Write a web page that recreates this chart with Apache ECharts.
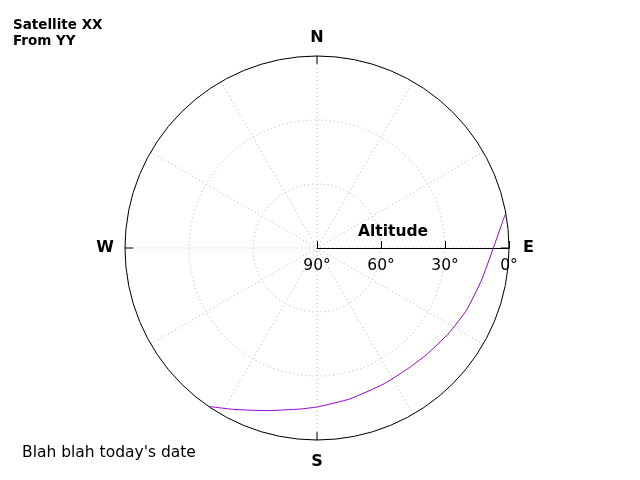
<!DOCTYPE html>
<html>
<head>
<meta charset="utf-8">
<script src="https://cdn.jsdelivr.net/npm/echarts@6/dist/echarts.min.js"></script>
<style>html,body{margin:0;padding:0;background:#fff}#c{width:640px;height:480px}</style>
</head>
<body>
<div id="c"></div>
<script>
var azimuth  = [80, 90.1, 101, 112.5, 122.7, 133.8, 141.3, 146.5, 154.2, 167.7, 179.5, 186, 197.2, 207.4, 214.4];
var altitude = [0.5, 7.4, 11.4, 14.1, 16.4, 18.3, 19.1, 19.3, 19.0, 17.6, 15.6, 14.1, 10.2, 4.8, 0];
var compassLabels = {90: 'E', 180: 'S', 270: 'W', 360: 'N'};
var altitudeTicks = [0, 30, 60, 90];

var FONT = 'DejaVu Sans';
var chart = echarts.init(document.getElementById('c'), null, {renderer: 'canvas'});
var lineData = azimuth.map(function (a, i) { return [altitude[i], a < 90 ? a + 360 : a]; });
var dirStyle = {fontFamily: FONT, fontSize: 16, fontWeight: 'bold', color: '#000'};

chart.setOption({
  animation: false,
  backgroundColor: '#fff',
  textStyle: {fontFamily: FONT},
  title: [
    {text: 'Satellite XX\nFrom YY', left: 8, top: 12,
     textStyle: {fontFamily: FONT, fontSize: 13.5, fontWeight: 'bold', color: '#000', lineHeight: 16}},
    {text: 'Blah blah today\'s date', left: 17, top: 440,
     textStyle: {fontFamily: FONT, fontSize: 15.5, fontWeight: 'normal', color: '#000'}},
    {text: 'Altitude', left: 353, top: 219,
     textStyle: {fontFamily: FONT, fontSize: 15.5, fontWeight: 'bold', color: '#000'}}
  ],
  grid: {left: 317, right: 131, top: 200, bottom: 232, containLabel: false},
  xAxis: {type: 'value', min: 0, max: 90, inverse: true, interval: 30, position: 'bottom',
    axisLine: {show: true, onZero: false, lineStyle: {color: '#000', width: 1}},
    axisTick: {show: true, inside: true, length: 7, lineStyle: {color: '#000', width: 1}},
    axisLabel: {show: true, margin: 10, showMinLabel: true, showMaxLabel: true, hideOverlap: false,
      fontFamily: FONT, fontSize: 15.5, color: '#000',
      formatter: function (v) { return altitudeTicks.indexOf(v) >= 0 ? v + '°' : ''; }},
    splitLine: {show: false}},
  yAxis: {type: 'value', show: false, min: 0, max: 1},
  polar: [
    {center: [317, 248], radius: 192},
    {center: [317, 248], radius: 192}
  ],
  angleAxis: [
    {polarIndex: 0, type: 'value', min: 90, max: 450, interval: 30, startAngle: 0, clockwise: true,
     axisLine: {show: false}, axisTick: {show: false}, axisLabel: {show: false},
     splitLine: {show: true, lineStyle: {color: '#b4b4b4', width: 1, type: [1, 3]}}},
    {polarIndex: 1, type: 'value', min: 90, max: 450, interval: 90, startAngle: 0, clockwise: true,
     axisLine: {show: true, lineStyle: {color: '#000', width: 1}},
     axisTick: {show: true, inside: true, length: 8, lineStyle: {color: '#000', width: 1}},
     axisLabel: {show: true, margin: 10, fontFamily: FONT, fontSize: 16, fontWeight: 'bold', color: '#000',
       formatter: function (v) {
         var k = ((v - 1) % 360) + 1; var t = compassLabels[k];
         if (!t) return '';
         return '{' + t.toLowerCase() + '|' + t + '}';
       },
       rich: {
         e: Object.assign({padding: [0, 0, 0, 4]}, dirStyle),
         s: Object.assign({padding: [4, 0, 0, 0]}, dirStyle),
         w: Object.assign({padding: [0, 1, 0, 0]}, dirStyle),
         n: Object.assign({padding: [0, 0, 0, 0]}, dirStyle)
       }},
     splitLine: {show: false}}
  ],
  radiusAxis: [
    {polarIndex: 0, type: 'value', min: 0, max: 90, inverse: true, interval: 30,
     axisLine: {show: false}, axisTick: {show: false}, axisLabel: {show: false},
     splitLine: {show: true, lineStyle: {color: '#b4b4b4', width: 1, type: [1, 3]}}},
    {polarIndex: 1, type: 'value', min: 0, max: 90, inverse: true, interval: 30,
     axisLine: {show: false}, axisTick: {show: false}, axisLabel: {show: false},
     splitLine: {show: false}}
  ],
  series: [
    {type: 'line', coordinateSystem: 'polar', polarIndex: 1, data: lineData,
     smooth: 0.15, symbol: 'none', lineStyle: {color: '#9400d3', width: 1}}
  ]
});
</script>
</body>
</html>
